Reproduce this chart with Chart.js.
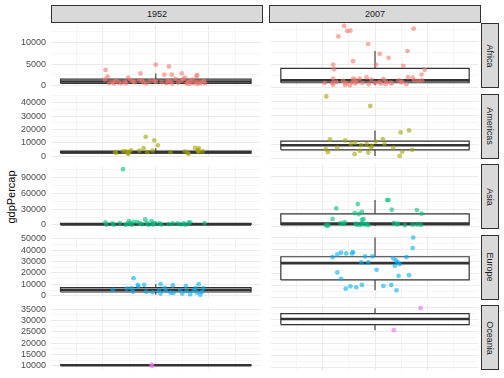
<!DOCTYPE html>
<html><head><meta charset="utf-8">
<script src="https://cdn.jsdelivr.net/npm/chart.js@4"></script>
<style>
body{margin:0;background:#fff;width:504px;height:378px;overflow:hidden;position:relative;font-family:"Liberation Sans",Arial,sans-serif;}
canvas{position:absolute;}
.strip{position:absolute;box-sizing:border-box;background:#D9D9D9;border:1px solid #333;color:#1A1A1A;font-size:9px;display:flex;align-items:center;justify-content:center;overflow:hidden;}
.strip span{display:block;white-space:nowrap;}
.vs span{transform:rotate(90deg);}
#ytitle{position:absolute;width:120px;height:14px;line-height:14px;text-align:center;font-size:11px;color:#000;transform:rotate(-90deg);}
</style></head><body>
<div id="ytitle">gdpPercap</div>
<script>
const continents = ['Africa','Americas','Asia','Europe','Oceania'];
const years = ['1952','2007'];
const colors = ['rgba(248,118,109,0.6)','rgba(163,165,0,0.6)','rgba(0,191,125,0.6)','rgba(0,176,246,0.6)','rgba(231,107,243,0.6)'];

// y tick labels per row
const africaTicks = [0,5000,10000];
const americasTicks = [0,10000,20000,30000,40000];
const asiaTicks = [0,30000,60000,90000];
const europeTicks = [0,10000,20000,30000,40000,50000];
const oceaniaTicks = [10000,15000,20000,25000,30000,35000];

// box stats: [lower whisker, Q1, median, Q3, upper whisker]
const africa1952Box = [440,560,990,1500,2830];
const africa2007Box = [440,1000,1500,4100,7830];
const americas1952Box = [1900,2430,3050,3940,6100];
const americas2007Box = [1900,6100,9300,12200,19650];
const asia1952Box = [331,1060,1210,3040,5330];
const asia2007Box = [1240,2900,5400,22800,47400];
const europe1952Box = [825,3300,5150,7240,10150];
const europe2007Box = [6270,14850,28550,33800,49500];
const oceania1952Box = [10040,10170,10300,10430,10560];
const oceania2007Box = [25450,27790,30080,32300,34590];

// jittered points: horizontal jitter offset and gdpPercap
const africa1952Jitter = [-0.95,-0.91,-0.96,0,0.25,-0.29,0.16,0.30,0.49,0.78,0.77,-0.52,-0.88,-0.82,-0.75,-0.70,-0.58,-0.56,-0.47,-0.31,-0.26,-0.23,-0.03,0,0.23,0.28,0.31,0.37,0.48,0.52,0.55,0.60,0.64,0.69,0.79,0.84,0.91,0.93,0.77,0.64,-0.79,-0.65,-0.40,-0.18,0.11,0.20,0.42,0.58,0.72,0.86,-0.43,-0.11];
const africa1952Gdp = [3630,2110,1390,4860,4430,2830,2540,2540,2830,2470,2110,1890,590,810,1170,740,880,590,1240,1240,1170,740,1100,880,1100,950,520,1600,1100,1530,1890,740,1020,1390,440,590,1100,590,810,440,520,590,810,590,810,590,740,520,590,880,950,1020];
const africa2007Jitter = [-0.59,0.74,-0.53,-0.47,-0.70,-0.13,0.62,0.09,0.26,-0.42,-0.80,0.54,0.02,-0.78,0.95,0.89,-0.80,-0.81,-0.96,-0.80,-0.61,-0.57,-0.48,-0.42,-0.38,-0.38,-0.29,-0.16,-0.12,-0.07,0.08,0.11,0.16,0.21,0.30,0.32,0.50,0.52,0.60,0.63,0.72,0.75,0.90,-0.44,-0.55,-0.35,0.0,-0.74,-0.24,0.20,0.45,0.83];
const africa2007Gdp = [13260,12690,12170,12250,11020,9350,7830,7250,6390,5650,4930,4650,4870,3910,3780,2760,1890,950,950,590,1390,520,440,1890,1670,810,1890,2180,660,1670,1170,810,1820,1240,1020,810,1100,1240,660,2180,2110,1530,1530,1100,950,1170,950,1170,950,660,1530,1390];
const americas1952Jitter = [-0.77,-0.75,-0.62,-0.57,-0.53,-0.51,-0.47,-0.31,-0.23,-0.19,-0.16,-0.06,-0.03,0.04,0.28,0.55,0.60,0.62,0.74,0.81,0.80,0.82,0.89,-0.52,0.80];
const americas1952Gdp = [3090,2600,3790,3790,2390,3090,4490,4210,6100,14530,3090,4210,11930,8210,3090,3790,2600,1900,6320,6100,3790,3090,3790,1900,4700];
const americas2007Jitter = [-0.93,-0.09,-0.86,-0.94,-0.90,-0.72,-0.57,-0.46,-0.38,-0.39,-0.29,-0.26,-0.16,-0.13,-0.08,-0.06,0.01,0.15,0.18,0.35,0.47,0.49,0.52,0.65,0.71];
const americas2007Gdp = [43300,36760,13330,6600,4490,7720,12630,10100,11230,3090,5400,9400,10100,4210,7720,8910,11930,13610,10100,7720,1900,18250,4700,19650,6100];
const asia1952Jitter = [-0.95,-0.82,-0.68,-0.51,-0.53,-0.42,-0.35,-0.30,-0.20,-0.17,-0.08,-0.06,-0.01,0.07,0.32,0.41,0.53,0.62,0.65,0.92,-0.62,-0.93,-0.79,-0.57,-0.45,-0.26,-0.14,-0.05,0.11,0.47,0.56,0.24,-0.48];
const asia1952Gdp = [4790,3020,3550,7100,2490,6040,5330,3550,10650,4260,7100,3020,3550,3020,3020,3020,3020,4260,4790,3550,106500,780,684,400,547,1200,331,850,1070,1210,590,1500,3550];
const asia2007Jitter = [0.26,0.23,-0.33,-0.74,0.32,0.80,-0.39,-0.25,-0.31,0.89,-0.81,-0.25,-0.22,-0.66,-0.58,-0.94,-0.89,-0.37,-0.25,-0.20,-0.16,0.36,0.42,0.57,0.72,0.81,0.88,-0.28,-0.60,-0.13,-0.91,-0.35,0.44];
const asia2007Gdp = [47400,47400,40300,32660,30180,29650,24320,26100,22550,23080,13670,11890,13140,6040,7810,2490,2490,5330,5330,4260,4790,6570,4260,2490,3550,4260,3020,3020,4790,2490,1240,3550,5330];
const europe1952Jitter = [-0.42,-0.81,-0.55,-0.46,-0.43,-0.33,-0.34,-0.22,-0.18,-0.06,0.09,0.09,0.17,0.19,0.28,0.32,0.33,0.46,0.57,0.58,0.65,0.72,0.75,0.81,0.84,0.87,0.90,0.78,0.50,0.06];
const europe1952Gdp = [15350,5200,6270,6600,3550,8250,9570,9570,3550,2970,10150,1900,6850,4130,2720,9080,2480,4950,8500,4130,1320,4620,6600,10150,825,3300,6600,2720,1900,4620];
const europe2007Jitter = [0.73,0.72,-0.81,-0.72,-0.65,-0.55,-0.44,-0.42,-0.19,-0.05,-0.26,-0.13,0.03,0.35,0.40,0.43,0.47,0.38,0.60,-0.72,-0.65,0.45,0.65,-0.56,-0.47,-0.36,-0.25,0.16,0.31,0.41];
const europe2007Gdp = [49500,40900,33500,35700,37100,36550,36550,37600,34100,34100,29100,29100,23100,32400,30800,29400,27700,26400,33500,20900,15700,18150,18650,7670,9570,8750,10730,9900,10730,6270];
const oceania1952Jitter = [-0.08,-0.07];
const oceania1952Gdp = [10560,10040];
const oceania2007Jitter = [0.87,0.36];
const oceania2007Gdp = [34590,25450];

const rowTicks = [africaTicks, americasTicks, asiaTicks, europeTicks, oceaniaTicks];
const panels = [
  [[africa1952Jitter,africa1952Gdp,africa1952Box],[africa2007Jitter,africa2007Gdp,africa2007Box]],
  [[americas1952Jitter,americas1952Gdp,americas1952Box],[americas2007Jitter,americas2007Gdp,americas2007Box]],
  [[asia1952Jitter,asia1952Gdp,asia1952Box],[asia2007Jitter,asia2007Gdp,asia2007Box]],
  [[europe1952Jitter,europe1952Gdp,europe1952Box],[europe2007Jitter,europe2007Gdp,europe2007Box]],
  [[oceania1952Jitter,oceania1952Gdp,oceania1952Box],[oceania2007Jitter,oceania2007Gdp,oceania2007Box]]
];

// layout
const colLeft = [51, 269], colWidth = 212, yAxisW = 51;
const rowTop0 = 23, rowStep = 70.55, rowH = 65.3;
const xLim = 1.98, boxHalf = 1.8;
const FONT = '"Liberation Sans", Arial, sans-serif';
const MAJOR = '#EBEBEB', MINOR = '#F5F5F5';

const yt = document.getElementById('ytitle');
yt.style.left = (11 - 60) + 'px';
yt.style.top = (rowTop0 + (4*rowStep + rowH)/2 - 7) + 'px';

function strip(text, left, top, w, h, vertical) {
  const d = document.createElement('div');
  d.className = 'strip' + (vertical ? ' vs' : '');
  d.style.left = left + 'px'; d.style.top = top + 'px';
  d.style.width = w + 'px'; d.style.height = h + 'px';
  const s = document.createElement('span'); s.textContent = text; d.appendChild(s);
  document.body.appendChild(d);
}
years.forEach((y, c) => strip(y, colLeft[c], 5, colWidth, 17.5, false));
continents.forEach((n, r) => strip(n, colLeft[1] + colWidth, rowTop0 + r*rowStep, 17.5, rowH, true));

function yTickList(major, min, max) {
  const step = major[1] - major[0];
  const out = major.filter(v => v >= min && v <= max).map(v => ({value: v, minor: false}));
  for (let i = 0; i < major.length - 1; i++) out.push({value: (major[i] + major[i+1]) / 2, minor: true});
  const first = major[0] - step/2, last = major[major.length-1] + step/2;
  if (first >= min) out.push({value: first, minor: true});
  if (last <= max) out.push({value: last, minor: true});
  return out.sort((a, b) => a.value - b.value);
}
const xTickVals = [-1.5,-1,-0.5,0,0.5,1,1.5];

function lineDs(pts, width, order, extra) {
  return Object.assign({data: pts, showLine: true, borderColor: '#333333', borderWidth: width,
    pointRadius: 0, fill: false, tension: 0, order: order}, extra || {});
}

for (let r = 0; r < 5; r++) {
  const all = [];
  panels[r].forEach(p => { all.push(...p[1], ...p[2]); });
  const dmin = Math.min(...all), dmax = Math.max(...all);
  const pad = (dmax - dmin) * 0.05;
  const ymin = dmin - pad, ymax = dmax + pad;
  for (let c = 0; c < 2; c++) {
    const [jit, gdp, box] = panels[r][c];
    const [lo, q1, med, q3, hi] = box;
    const top = rowTop0 + r*rowStep, bottom = top + rowH;
    const cTop = Math.floor(top) - 8, cBot = Math.ceil(bottom) + 8;
    const cLeft = c === 0 ? 0 : colLeft[1];
    const cW = c === 0 ? colLeft[0] + colWidth : colWidth;
    const cv = document.createElement('canvas');
    cv.width = cW; cv.height = cBot - cTop;
    cv.style.left = cLeft + 'px'; cv.style.top = cTop + 'px';
    document.body.appendChild(cv);
    const W = boxHalf;
    new Chart(cv, {
      type: 'line',
      data: { datasets: [
        {data: jit.map((x, i) => ({x: x, y: gdp[i]})), showLine: false, pointRadius: 2.4,
         pointBackgroundColor: colors[r], pointBorderWidth: 0, pointHoverRadius: 2.4, order: 0},
        lineDs([{x:-W,y:med},{x:W,y:med}], 2.6, 1),
        lineDs([{x:-W,y:q1},{x:W,y:q1},{x:W,y:q3},{x:-W,y:q3},{x:-W,y:q1}], 1.2, 2),
        lineDs([{x:0,y:q3},{x:0,y:hi}], 1.1, 3),
        lineDs([{x:0,y:lo},{x:0,y:q1}], 1.1, 3),
        lineDs([{x:-W,y:q3},{x:W,y:q3}], 0, 5, {fill: '+1', backgroundColor: '#ffffff', borderColor: 'rgba(0,0,0,0)'}),
        lineDs([{x:-W,y:q1},{x:W,y:q1}], 0, 6, {borderColor: 'rgba(0,0,0,0)'})
      ]},
      options: {
        responsive: false, animation: false, events: [],
        layout: {padding: {top: top - cTop, bottom: cBot - bottom, left: 0, right: 0}},
        plugins: {legend: {display: false}, tooltip: {enabled: false}},
        scales: {
          x: {type: 'linear', min: -xLim, max: xLim,
            afterBuildTicks: s => { s.ticks = xTickVals.map(v => ({value: v, minor: (v % 1) !== 0})); },
            ticks: {display: false},
            grid: {drawTicks: false, color: ctx => (ctx.tick && ctx.tick.minor) ? MINOR : MAJOR, lineWidth: 1},
            border: {display: false},
            afterFit: s => { s.height = 0; }
          },
          y: {type: 'linear', min: ymin, max: ymax,
            afterBuildTicks: s => { s.ticks = yTickList(rowTicks[r], ymin, ymax); },
            ticks: {display: c === 0, padding: 5, color: '#4D4D4D', autoSkip: false,
              font: {size: 9, family: FONT},
              callback: (v, i, t) => (t[i] && t[i].minor) ? '' : String(v)},
            grid: {drawTicks: false, color: ctx => (ctx.tick && ctx.tick.minor) ? MINOR : MAJOR, lineWidth: 1},
            border: {display: false},
            afterFit: s => { s.width = c === 0 ? yAxisW : 0; }
          }
        }
      }
    });
  }
}
</script>
</body></html>
